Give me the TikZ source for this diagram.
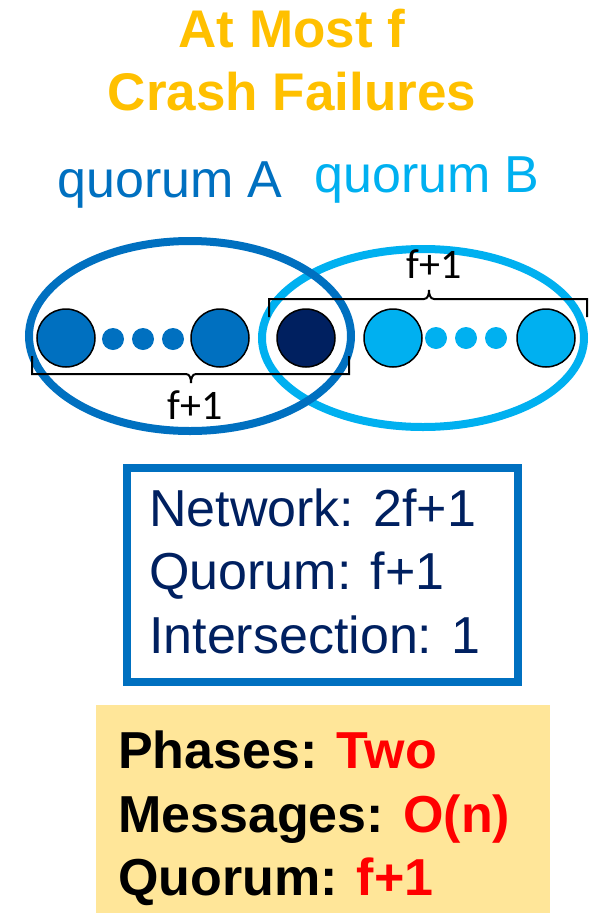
\documentclass[tikz,border=0pt]{standalone}
\usepackage{fontspec}
\setmainfont{Liberation Sans}
\newfontfamily\calib{Carlito}
\usetikzlibrary{shapes.geometric}
\definecolor{gold}{HTML}{FFC000}
\definecolor{qblue}{HTML}{0070C0}
\definecolor{qlight}{HTML}{00B0F0}
\definecolor{navy}{HTML}{002060}
\definecolor{paleyellow}{HTML}{FFE699}
\definecolor{hotred}{HTML}{FF0000}
\begin{document}
\begin{tikzpicture}[x=1pt,y=-1pt,
  titletext/.style={text=gold,font=\bfseries\fontsize{53}{60}\selectfont,inner sep=0,anchor=base},
  qlabel/.style={font=\fontsize{52}{60}\selectfont,inner sep=0,anchor=base},
  quorumring/.style={ellipse,line width=8pt,minimum width=322pt,inner sep=0},
  bignode/.style={circle,draw=black,line width=1.5pt,minimum size=58pt,inner sep=0},
  dotnode/.style={circle,minimum size=22pt,inner sep=0},
  bracepath/.style={line width=2pt,black},
  flabel/.style={font=\calib\fontsize{42}{46}\selectfont,inner sep=0,anchor=base},
  infotext/.style={text=navy,font=\fontsize{52}{60}\selectfont,inner sep=0,anchor=base west},
  stattext/.style={font=\bfseries\fontsize{52}{60}\selectfont,inner sep=0,anchor=base west}]
\useasboundingbox (0,0) rectangle (589,913);

% title
\node[titletext] (t1) at (292,47) {At Most f};
\node[titletext] (t2) at (292,110) {Crash Failures};

% quorum labels
\node[qlabel,text=qblue] (la) at (170,197) {quorum A};
\node[qlabel,text=qlight] (lb) at (427,192) {quorum B};

% ellipses
\node[quorumring,draw=qlight,minimum height=178pt] (qb) at (423,338) {};
\node[quorumring,draw=qblue,minimum height=190pt] (qa) at (190,336) {};

% nodes
\node[bignode,fill=qblue] (a1) at (66,338) {};
\node[dotnode,fill=qblue] (ad1) at (113,339) {};
\node[dotnode,fill=qblue] (ad2) at (143,339) {};
\node[dotnode,fill=qblue] (ad3) at (173,339) {};
\node[bignode,fill=qblue] (a2) at (220,338) {};
\node[bignode,fill=navy] (c) at (306,338) {};
\node[bignode,fill=qlight] (b1) at (393,338) {};
\node[dotnode,fill=qlight] (bd1) at (436,338) {};
\node[dotnode,fill=qlight] (bd2) at (466,338) {};
\node[dotnode,fill=qlight] (bd3) at (496,338) {};
\node[bignode,fill=qlight] (b2) at (546,338) {};

% brackets
\coordinate (pa1) at (32,356);
\coordinate (pa2) at (349,356);
\coordinate (pam) at (191,383);
\coordinate (pb1) at (269,317);
\coordinate (pb2) at (587,317);
\coordinate (pbm) at (429,290);
\draw[bracepath] (pa1) |- ([xshift=-5pt]pam |- 0,374) to[out=0,in=90] (pam)
  to[out=90,in=180] ([xshift=5pt]pam |- 0,374) -| (pa2);
\draw[bracepath] (pb1) |- ([xshift=-5pt]pbm |- 0,299) to[out=0,in=-90] (pbm)
  to[out=-90,in=180] ([xshift=5pt]pbm |- 0,299) -| (pb2);
\node[flabel] (fa) at (195,419) {f+1};
\node[flabel] (fb) at (434,278) {f+1};

% info box
\node[draw=qblue,line width=8pt,minimum width=391pt,minimum height=214pt,inner sep=0] (box) at (322.5,575) {};
\node[infotext] (i1) at (149,526) {Network: 2f+1};
\node[infotext] (i2) at (149,589) {Quorum: f+1};
\node[infotext] (i3) at (149,653) {Intersection: 1};

% stats box
\node[fill=paleyellow,minimum width=454pt,minimum height=208pt,inner sep=0] (stats) at (323,809) {};
\node[stattext] (s1) at (118,768) {Phases: \textcolor{hotred}{Two}};
\node[stattext] (s2) at (118,832) {Messages: \textcolor{hotred}{O(n)}};
\node[stattext] (s3) at (118,895) {Quorum: \textcolor{hotred}{f+1}};
\end{tikzpicture}
\end{document}
